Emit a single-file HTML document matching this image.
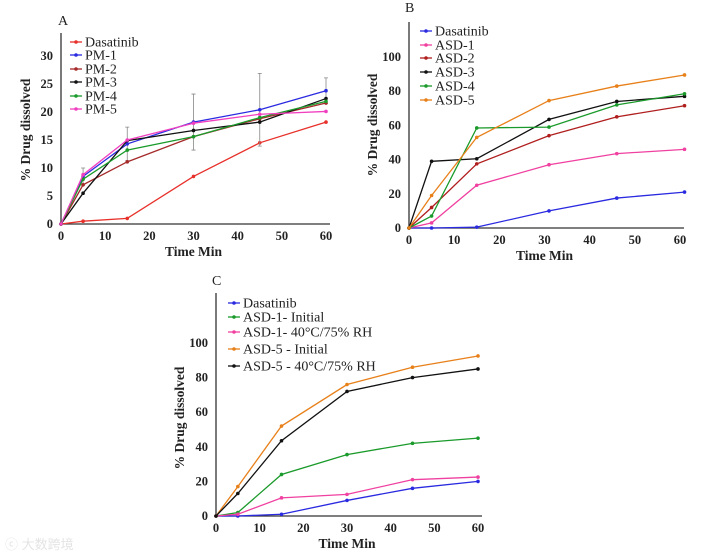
<!DOCTYPE html>
<html><head><meta charset="utf-8"><style>
body{margin:0;background:#fff;}
svg{display:block;font-family:"Liberation Serif",serif;}
.tick{font-weight:bold;font-size:12.5px;fill:#222;}
.ttl{font-weight:bold;font-size:13.5px;fill:#222;}
.leg{font-size:14px;fill:#222;}
</style></head><body>
<svg id="chart" width="704" height="556" viewBox="0 0 704 556">
<text x="5" y="549" font-family="'Liberation Sans','Noto Sans CJK SC',sans-serif" font-size="13" fill="#e4e4e4">ⓒ 大数跨境</text>
</svg>
<script>
// Panel A data
const timesA = [0,5,15,30,45,60];
const namesA = ["Dasatinib","PM-1","PM-2","PM-3","PM-4","PM-5"];
const dasA = [0,0.5,1,8.5,14.5,18.2];
const pm1 = [0,8.5,14.3,18.2,20.4,23.8];
const pm2 = [0,7,11.1,15.6,18.8,21.6];
const pm3 = [0,5.5,14.9,16.7,18.2,22.4];
const pm4 = [0,8,13.2,15.6,19,21.9];
const pm5 = [0,8.8,15,18,19.6,20.1];
const errA = [0,1.5,3,5,6.5,2.3];
const yTicksA = [0,5,10,15,20,25,30];
const xTicks = [0,10,20,30,40,50,60];
// Panel B data
const timesB = [0,5,15,31,46,61];
const namesB = ["Dasatinib","ASD-1","ASD-2","ASD-3","ASD-4","ASD-5"];
const dasB = [0,0,0.5,10,17.5,21];
const asd1 = [0,3,25,37,43.5,46];
const asd2 = [0,12,37.5,54,65,71.5];
const asd3 = [0,39,40.5,63.5,74,77];
const asd4 = [0,7,58.5,59,72,78.5];
const asd5 = [0,19,53,74.5,83,89.5];
const yTicksB = [0,20,40,60,80,100];
// Panel C data
const timesC = [0,5,15,30,45,60];
const namesC = ["Dasatinib","ASD-1- Initial","ASD-1- 40\u00B0C/75% RH","ASD-5 - Initial","ASD-5 - 40\u00B0C/75% RH"];
const dasC = [0,0,1,9,16,20];
const a1i = [0,2,24,35.5,42,45];
const a1s = [0,1,10.5,12.5,21,22.5];
const a5i = [0,17,52,76,86,92.5];
const a5s = [0,13,43.5,72,80,85];
const yTicksC = [0,20,40,60,80,100];

const NS="http://www.w3.org/2000/svg";
const svg=document.getElementById('chart');
function el(t,a,p){const e=document.createElementNS(NS,t);for(const k in a)e.setAttribute(k,a[k]);(p||svg).appendChild(e);return e;}

function panel(cfg){
  const g=el('g',{});
  
  
  const X=v=>cfg.x0+(v-0)/60*(cfg.x1-cfg.x0);
  const Y=v=>cfg.y0-v/cfg.ymax*(cfg.y0-cfg.y1);
  const ax=el('path',{d:`M${cfg.x0} ${cfg.top}V${cfg.y0}H${cfg.x1+4}`,stroke:'#333','stroke-width':1.3,fill:'none'},g);
  
  
  cfg.yt.forEach(v=>{
    const t=el('text',{x:cfg.x0-8,y:Y(v)+4,'text-anchor':'end',class:'tick'},g);t.textContent=v;
    
    
  });
  xTicks.forEach(v=>{
    const t=el('text',{x:X(v),y:cfg.y0+16,'text-anchor':'middle',class:'tick'},g);t.textContent=v;
    
    
  });
  const xt=el('text',{x:(cfg.x0+cfg.x1)/2,y:cfg.y0+32,'text-anchor':'middle',class:'ttl'},g);xt.textContent='Time Min';
  
  
  const yl=el('text',{x:0,y:0,'text-anchor':'middle',class:'ttl',transform:`translate(${cfg.ylx},${cfg.yly}) rotate(-90)`},g);yl.textContent='% Drug dissolved';
  
  
  const pl=el('text',{x:cfg.lx,y:cfg.ly,class:'leg'},g);pl.textContent=cfg.id;
  
  
  cfg.series.forEach((s,i)=>{
    const sg=el('g',{},g);
    
    
    if(s.err) cfg.times.forEach((t,j)=>{ if(s.err[j]>0){
      const e=el('path',{d:`M${X(t)} ${Y(s.v[j]-s.err[j])}V${Y(s.v[j]+s.err[j])}M${X(t)-2} ${Y(s.v[j]-s.err[j])}h4M${X(t)-2} ${Y(s.v[j]+s.err[j])}h4`,stroke:'#888','stroke-width':0.8},sg);
      
      
    }});
    const ln=el('polyline',{points:cfg.times.map((t,j)=>X(t)+','+Y(s.v[j])).join(' '),fill:'none',stroke:s.c,'stroke-width':1.3},sg);
    
    
    cfg.times.forEach((t,j)=>{
      const c=el('circle',{cx:X(t),cy:Y(s.v[j]),r:1.8,fill:s.c},sg);
      
      
    });
    const ly=cfg.legY[i];
    const lg=el('g',{},g);
    
    
    el('line',{x1:cfg.legX,x2:cfg.legX+12,y1:ly,y2:ly,stroke:s.c,'stroke-width':1.3},lg);
    el('circle',{cx:cfg.legX+6,cy:ly,r:1.8,fill:s.c},lg);
    const tx=el('text',{x:cfg.legX+15,y:ly+4.5,class:'leg'},lg);tx.textContent=s.name;
  });
}
panel({id:'A',x0:61,x1:326,y0:224,y1:56,ymax:30,top:33,yt:yTicksA,times:timesA,ylx:30,yly:130,lx:58,ly:25,
  legX:70,legY:[42,55,69,82,96,109],
  series:[{name:namesA[0],v:dasA,c:'#e8302a'},{name:namesA[1],v:pm1,c:'#2a2ae0',err:errA},{name:namesA[2],v:pm2,c:'#a52a2a'},
  {name:namesA[3],v:pm3,c:'#111'},{name:namesA[4],v:pm4,c:'#1a9a2a'},{name:namesA[5],v:pm5,c:'#f040c0'}]});
panel({id:'B',x0:409,x1:680,y0:228,y1:57,ymax:100,top:22,yt:yTicksB,times:timesB,ylx:377,yly:125,lx:405,ly:12,
  legX:420,legY:[31,45,58,72,86,100],
  series:[{name:namesB[0],v:dasB,c:'#2a2ae0'},{name:namesB[1],v:asd1,c:'#f040a0'},{name:namesB[2],v:asd2,c:'#b01e1e'},
  {name:namesB[3],v:asd3,c:'#111'},{name:namesB[4],v:asd4,c:'#1a9a2a'},{name:namesB[5],v:asd5,c:'#e8801a'}]});
panel({id:'C',x0:216,x1:478,y0:516,y1:343,ymax:100,top:293,yt:yTicksC,times:timesC,ylx:184,yly:418,lx:212,ly:285,
  legX:228,legY:[303,317,332,349,366],
  series:[{name:namesC[0],v:dasC,c:'#2a2ae0'},{name:namesC[1],v:a1i,c:'#1a9a2a'},{name:namesC[2],v:a1s,c:'#f040a0'},
  {name:namesC[3],v:a5i,c:'#e8801a'},{name:namesC[4],v:a5s,c:'#111'}]});
</script>
</body></html>
